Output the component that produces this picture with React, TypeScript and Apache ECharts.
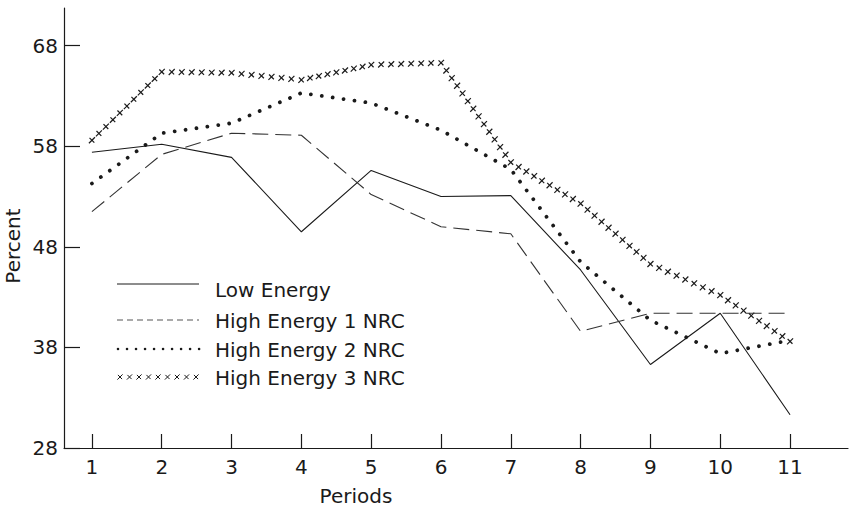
import React, { useEffect, useRef } from "react";
import * as echarts from "echarts";

const periods = [1, 2, 3, 4, 5, 6, 7, 8, 9, 10, 11];
const yTicks = [28, 38, 48, 58, 68];
const lowEnergy = [57.4, 58.2, 56.9, 49.5, 55.6, 53.0, 53.1, 45.7, 36.3, 41.4, 31.3];
const highEnergy1 = [51.5, 57.2, 59.3, 59.1, 53.2, 50.0, 49.3, 39.6, 41.4, 41.4, 41.4];
const highEnergy2 = [54.3, 59.3, 60.3, 63.3, 62.3, 59.6, 55.7, 46.5, 40.7, 37.4, 38.7];
const highEnergy3 = [58.6, 65.4, 65.3, 64.6, 66.1, 66.3, 56.4, 52.3, 46.3, 43.2, 38.6];
const seriesNames = ["Low Energy", "High Energy 1 NRC", "High Energy 2 NRC", "High Energy 3 NRC"];

const FONT = "'DejaVu Sans', sans-serif";
const INK = "#1a1a1a";

function xMark(cx: number, cy: number, s: number, w: number) {
  return [
    { type: "line", shape: { x1: cx - s, y1: cy + s, x2: cx + s, y2: cy - s }, style: { stroke: INK, lineWidth: w } },
    { type: "line", shape: { x1: cx - s * 0.8, y1: cy - s * 0.8, x2: cx + s * 0.8, y2: cy + s * 0.8 }, style: { stroke: INK, lineWidth: w } },
  ];
}

export default function App() {
  const ref = useRef<HTMLDivElement>(null);
  useEffect(() => {
    if (!ref.current) return;
    const chart = echarts.init(ref.current, undefined, { renderer: "svg" });
    const pairs = (vals: number[]) => periods.map((p, i) => [p, vals[i]]);
    const segs = periods.slice(0, -1).map((p, i) => [p, highEnergy3[i], periods[i + 1], highEnergy3[i + 1]]);
    const lastIndex = segs.length - 1;

    const legendRows = [289, 320, 349, 377];
    const legendGraphics: any[] = [];
    legendGraphics.push({ type: "line", shape: { x1: 117, y1: 284, x2: 199, y2: 284 }, style: { stroke: INK, lineWidth: 1 } });
    legendGraphics.push({ type: "line", shape: { x1: 117, y1: 320, x2: 199, y2: 320 }, style: { stroke: "#555", lineWidth: 1, lineDash: [6, 4] } });
    legendGraphics.push({ type: "line", shape: { x1: 118, y1: 349, x2: 200, y2: 349 }, style: { stroke: INK, lineWidth: 2.6, lineDash: [0.01, 9], lineCap: "round" } });
    const xs: any[] = [];
    for (let k = 0; k < 9; k++) xs.push(...xMark(120 + k * 9.5, 377, 2.6, 1));
    legendGraphics.push({ type: "group", children: xs });
    seriesNames.forEach((n, i) => {
      legendGraphics.push({
        type: "text",
        x: 215,
        y: legendRows[i] + 1,
        style: { text: n, font: `500 20px ${FONT}`, fill: INK, verticalAlign: "middle", align: "left" },
      });
    });

    chart.setOption({
      animation: false,
      grid: { left: 64, top: 8, right: 5, bottom: 61 },
      xAxis: {
        type: "value",
        min: 0.6,
        max: 11.83,
        axisLine: { lineStyle: { color: INK, width: 1.2 } },
        axisTick: { show: true, inside: true, length: 14, customValues: periods, lineStyle: { color: INK, width: 1.2 } },
        axisLabel: { customValues: periods, fontSize: 20, margin: 9, color: INK, fontFamily: FONT },
        splitLine: { show: false },
      },
      yAxis: {
        type: "value",
        min: 28,
        max: 71.75,
        axisLine: { show: true, lineStyle: { color: INK, width: 1.2 } },
        axisTick: { show: true, inside: true, length: 16, customValues: yTicks, lineStyle: { color: INK, width: 1.2 } },
        axisLabel: { customValues: yTicks, fontSize: 20, margin: 6, color: INK, fontFamily: FONT },
        splitLine: { show: false },
      },
      series: [
        { name: seriesNames[0], type: "line", data: pairs(lowEnergy), symbol: "none", lineStyle: { color: INK, width: 1.1 } },
        { name: seriesNames[1], type: "line", data: pairs(highEnergy1), symbol: "none", lineStyle: { color: "#333", width: 1.1, type: [16, 7] } },
        { name: seriesNames[2], type: "line", data: pairs(highEnergy2), symbol: "none", lineStyle: { color: INK, width: 3.8, type: [0.01, 11], cap: "round" } },
        {
          name: seriesNames[3],
          type: "custom",
          data: segs,
          encode: { x: [0, 2], y: [1, 3] },
          renderItem: (params: any, api: any) => {
            const p0 = api.coord([api.value(0), api.value(1)]);
            const p1 = api.coord([api.value(2), api.value(3)]);
            const dx = p1[0] - p0[0];
            const dy = p1[1] - p0[1];
            const L = Math.sqrt(dx * dx + dy * dy);
            const step = 9.5;
            const n = Math.max(1, Math.round(L / step));
            const children: any[] = [];
            const upto = params.dataIndex === lastIndex ? n : n - 1;
            for (let k = 0; k <= upto; k++) {
              const t = k / n;
              children.push(...xMark(p0[0] + dx * t, p0[1] + dy * t, 3, 1.2));
            }
            return { type: "group", children };
          },
        },
      ],
      graphic: [
        ...legendGraphics,
        { type: "text", x: 356, y: 496, style: { text: "Periods", font: `20px ${FONT}`, fill: INK, align: "center", verticalAlign: "middle" } },
        { type: "text", x: 13, y: 246, rotation: Math.PI / 2, style: { text: "Percent", font: `20px ${FONT}`, fill: INK, align: "center", verticalAlign: "middle" } },
      ],
    });
    return () => chart.dispose();
  }, []);
  return <div ref={ref} style={{ position: "absolute", left: 0, top: 0, width: 853, height: 509, background: "#fff" }} />;
}
